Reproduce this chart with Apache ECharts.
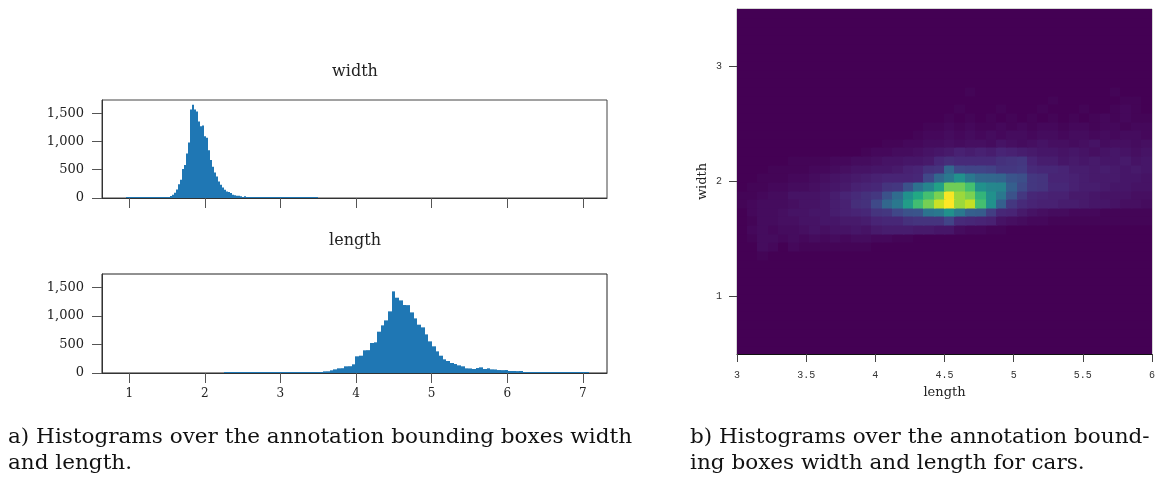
<!DOCTYPE html>
<html><head><meta charset="utf-8">
<script src="https://cdn.jsdelivr.net/npm/echarts@6/dist/echarts.min.js"></script>
<style>html,body{margin:0;padding:0;background:#fff}#c{width:1160px;height:477px}</style>
</head><body><div id="c"></div>
<script>
// ---- Histogram a) : width ----
const widthBinStart = 0.961;
const widthBinSize = 0.0264;
const widthCounts = [
  1,1,2,1,2,2,1,2,2,3,2,3,3,4,3,4,5,6,7,9,12,
  17,35,58,93,152,245,321,513,583,787,980,1563,1650,1563,1528,1353,1271,1283,1090,1067,
  846,671,554,449,379,292,233,187,146,117,105,88,58,47,41,41,29,17,29,8,
  6,5,4,4,3,3,3,2,2,2,2,1,2,1,1,1,1,1,1,1,1,1,1,1,1,1,1,1,1,1,1,1,1,1,1,
  0,0,0,0
];
// ---- Histogram a) : length ----
const lengthBinStart = 2.256;
const lengthBinSize = 0.0482;
const lengthCounts = [
  1,1,1,1,1,1,1,1,1,1,2,1,2,2,2,2,3,3,
  3,3,4,4,5,5,6,10,12,29,30,47,64,82,84,117,119,152,
  292,303,397,400,525,537,723,834,921,1079,1429,
  1318,1271,1190,1188,1061,956,846,799,676,554,467,379,303,239,210,175,157,134,117,
  82,80,70,87,99,70,82,64,62,52,50,52,35,35,33,35,17,18,17,16,17,
  10,8,12,10,8,4,3,3,3,2,2,2,2
];
const histXTicks = [1, 2, 3, 4, 5, 6, 7];
const histYTicks = [0, 500, 1000, 1500];
const histTitles = ['width', 'length'];

// ---- 2D histogram b) : cars (relative density, 0-100) ----
const heatXStart = 3, heatXBin = 0.075, heatXBins = 40;
const heatYStart = 0.5, heatYBin = 0.075, heatYBins = 40;
const heatFirstRow = 10;
const heatRows = [
  [0,0,0,0,0,0,0,0,0,0, 0,0,0,0,0,0,0,0,0,0, 0,0,0,0,0,0,0,0,0,0, 0,0,0,0,0,0,0,0,0,0],
  [0,0,1,0,0,0,0,0,0,0, 0,0,0,0,0,0,0,0,0,0, 0,0,0,0,0,0,0,0,0,0, 0,0,0,0,0,0,0,0,0,0],
  [0,0,3,2,0,2,1,1,1,1, 1,1,1,0,0,0,0,0,0,0, 0,0,0,0,0,0,0,0,0,0, 0,0,0,0,0,0,0,0,0,0],
  [0,1,3,3,2,3,2,3,2,3, 2,3,3,2,2,1,1,0,0,0, 0,0,0,0,0,0,0,0,0,0, 0,0,0,0,0,0,0,0,0,0],
  [0,2,3,2,3,3,4,5,4,5, 5,6,5,7,8,8,8,7,7,6, 6,3,2,2,1,1,0,0,0,0, 0,0,0,0,0,0,0,0,0,0],
  [0,1,3,3,4,4,5,5,6,6, 7,7,8,10,11,11,14,15,15,15, 20,12,11,10,9,5,4,3,2,2, 1,1,1,1,1,1,1,1,1,1],
  [0,2,3,3,4,5,5,6,6,8, 9,10,11,15,16,21,25,26,38,40, 50,40,30,29,18,11,10,7,5,4, 3,3,2,2,2,1,1,1,1,1],
  [1,2,3,3,3,4,5,5,6,8, 9,13,14,22,33,40,55,69,79,92, 100,85,91,70,50,30,16,12,10,9, 9,8,8,7,6,6,5,4,4,3],
  [1,1,2,3,3,5,5,5,6,8, 10,12,14,16,25,35,50,60,70,80, 99,85,80,65,50,40,25,16,11,10, 9,9,7,7,6,5,5,5,4,4],
  [0,1,1,2,2,3,3,4,5,6, 7,9,10,11,15,16,25,37,45,57, 78,78,70,50,46,45,30,22,16,15, 11,11,9,8,8,7,6,6,5,5],
  [0,0,1,1,1,2,2,3,4,5, 6,7,8,9,10,10,10,11,21,33, 40,50,40,34,33,32,26,24,16,15, 10,10,9,8,7,7,7,6,6,5],
  [0,0,0,1,1,1,1,2,2,3, 4,5,5,6,6,7,9,10,14,15, 33,21,20,20,19,16,16,17,12,11, 11,10,8,8,7,8,7,6,7,6],
  [0,0,0,0,0,1,1,1,1,2, 2,3,3,4,5,5,6,6,7,11, 13,12,12,12,12,14,15,16,10,8, 8,6,7,6,7,6,6,7,5,6],
  [0,0,0,0,0,0,0,0,0,0, 0,0,1,2,2,3,3,4,5,6, 7,9,8,9,8,10,9,8,7,6, 6,5,6,5,4,5,6,5,4,5],
  [0,0,0,0,0,0,0,0,0,0, 0,0,0,0,1,1,2,2,3,3, 4,3,4,4,3,5,4,3,4,5, 4,4,3,4,5,3,4,4,3,4],
  [0,0,0,0,0,0,0,0,0,0, 0,0,0,0,0,0,0,1,2,2, 3,2,3,2,3,2,3,3,2,3, 3,2,3,3,2,3,2,3,3,2],
  [0,0,0,0,0,0,0,0,0,0, 0,0,0,0,0,0,0,0,1,1, 2,1,2,1,1,2,1,2,1,2, 2,1,2,2,1,2,2,1,2,2],
  [0,0,0,0,0,0,0,0,0,0, 0,0,0,0,0,0,0,0,0,0, 1,0,1,0,1,0,1,0,1,0, 1,0,1,0,1,2,1,2,1,1],
  [0,0,0,0,0,0,0,0,0,0, 0,0,0,0,0,0,0,0,0,0, 0,1,0,0,0,1,0,0,0,1, 0,0,0,1,0,0,1,2,1,0],
  [0,0,0,0,0,0,0,0,0,0, 0,0,0,0,0,0,0,0,0,0, 0,0,0,0,0,0,0,0,0,0, 1,0,0,0,0,0,0,1,1,0],
  [0,0,0,0,0,0,0,0,0,0, 0,0,0,0,0,0,0,0,0,0, 0,0,1,0,0,0,0,0,0,0, 0,0,0,0,0,0,1,0,0,0]
];
const heatXTickStep = 0.5;
const heatYTicks = [1, 2, 3];
const heatXName = 'length';
const heatYName = 'width';
const viridis = ['#440154','#482475','#414487','#355f8d','#2a788e','#21918c','#22a884','#44bf70','#7ad151','#bddf26','#fde725'];

const captionA = ['a) Histograms over the annotation bounding boxes width', 'and length.'];
const captionB = ['b) Histograms over the annotation bound-', 'ing boxes width and length for cars.'];

// ---- build data ----
function histData(start, size, counts) {
  return counts.map((c, i) => [start + i * size, start + (i + 1) * size, c]);
}
const heatData = [];
for (let r = 0; r < heatYBins; r++) {
  for (let c = 0; c < heatXBins; c++) {
    const row = heatRows[r - heatFirstRow];
    const v = row ? row[c] : 0;
    heatData.push([heatXStart + c * heatXBin, heatXStart + (c + 1) * heatXBin,
                   heatYStart + r * heatYBin, heatYStart + (r + 1) * heatYBin, v]);
  }
}

function histItem(params, api) {
  const v = api.value(2);
  if (!v) return null;
  const p0 = api.coord([api.value(0), v]);
  const p1 = api.coord([api.value(1), 0]);
  let h = p1[1] - p0[1];
  if (h < 1) h = 1;
  const x0 = Math.round(p0[0]), x1 = Math.round(p1[0]);
  return { type: 'rect', shape: { x: x0, y: p1[1] - h, width: Math.max(1, x1 - x0), height: h },
           style: { fill: '#1f77b4' } };
}
function heatItem(params, api) {
  const p0 = api.coord([api.value(0), api.value(3)]);
  const p1 = api.coord([api.value(1), api.value(2)]);
  const x0 = Math.floor(p0[0]), y0 = Math.floor(p0[1]);
  const x1 = Math.ceil(p1[0]), y1 = Math.ceil(p1[1]);
  return { type: 'rect', shape: { x: x0, y: y0, width: x1 - x0 + 0.5, height: y1 - y0 + 0.5 },
           style: { fill: api.visual('color') } };
}

const serif = 'DejaVu Serif';
const histXMin = 0.64, histXMax = 7.32, histYMax = 1733;
function histX(gi, showLabels) {
  return {
    gridIndex: gi, type: 'value', min: histXMin, max: histXMax,
    axisLine: { show: true, lineStyle: { color: '#333', width: 1 } },
    axisTick: { show: true, customValues: histXTicks, length: 10, lineStyle: { color: '#555', width: 1 } },
    axisLabel: { show: showLabels, customValues: histXTicks, margin: 15, fontFamily: serif, fontSize: 12, color: '#222' },
    splitLine: { show: false }
  };
}
function histY(gi) {
  return {
    gridIndex: gi, type: 'value', min: 0, max: histYMax,
    axisLine: { show: true, lineStyle: { color: '#333', width: 1 } },
    axisTick: { show: true, customValues: histYTicks, length: 10, lineStyle: { color: '#555', width: 1 } },
    axisLabel: { customValues: histYTicks, margin: 18, fontFamily: serif, fontSize: 13, color: '#222',
                 formatter: v => Number(v).toLocaleString('en-US') },
    splitLine: { show: false }
  };
}

const chart = echarts.init(document.getElementById('c'), null, { renderer: 'canvas' });
chart.setOption({
  animation: false,
  backgroundColor: '#fff',
  grid: [
    { left: 102, top: 100, width: 505, height: 98, show: true, borderColor: '#444', borderWidth: 1, backgroundColor: 'transparent' },
    { left: 102, top: 274, width: 505, height: 99, show: true, borderColor: '#222', borderWidth: 1, backgroundColor: 'transparent' },
    { left: 737, top: 9, width: 415, height: 345, show: true, borderColor: '#aaa', borderWidth: 1, backgroundColor: 'transparent' }
  ],
  xAxis: [
    histX(0, false),
    histX(1, true),
    {
      gridIndex: 2, type: 'value', min: heatXStart, max: heatXStart + heatXBins * heatXBin, interval: heatXTickStep,
      axisLine: { show: true, lineStyle: { color: '#111', width: 1 } },
      axisTick: { show: true, length: 8, lineStyle: { color: '#444' } },
      axisLabel: { margin: 16, fontFamily: 'Liberation Mono', fontSize: 10, color: '#333' },
      splitLine: { show: false },
      name: heatXName, nameLocation: 'middle', nameGap: 32,
      nameTextStyle: { fontFamily: serif, fontSize: 13, color: '#222' }
    }
  ],
  yAxis: [
    histY(0),
    histY(1),
    {
      gridIndex: 2, type: 'value', min: heatYStart, max: heatYStart + heatYBins * heatYBin,
      axisLine: { show: true, lineStyle: { color: '#888', width: 1 } },
      axisTick: { show: true, customValues: heatYTicks, length: 8, lineStyle: { color: '#444' } },
      axisLabel: { customValues: heatYTicks, margin: 15, fontFamily: 'Liberation Mono', fontSize: 10, color: '#333' },
      splitLine: { show: false },
      name: heatYName, nameLocation: 'middle', nameGap: 28, nameRotate: 90,
      nameTextStyle: { fontFamily: serif, fontSize: 13, color: '#222' }
    }
  ],
  visualMap: {
    type: 'continuous', show: false, min: 0, max: 100, dimension: 4, seriesIndex: 2,
    inRange: { color: viridis }
  },
  series: [
    { type: 'custom', xAxisIndex: 0, yAxisIndex: 0, renderItem: histItem, clip: true,
      encode: { x: [0, 1], y: 2 }, data: histData(widthBinStart, widthBinSize, widthCounts) },
    { type: 'custom', xAxisIndex: 1, yAxisIndex: 1, renderItem: histItem, clip: true,
      encode: { x: [0, 1], y: 2 }, data: histData(lengthBinStart, lengthBinSize, lengthCounts) },
    { type: 'custom', xAxisIndex: 2, yAxisIndex: 2, renderItem: heatItem, clip: true,
      encode: { x: [0, 1], y: [2, 3] }, data: heatData }
  ],
  graphic: [
    { type: 'text', x: 355, y: 72, style: { text: histTitles[0], fontFamily: serif, fontSize: 16, fill: '#222', align: 'center', verticalAlign: 'middle' } },
    { type: 'text', x: 355, y: 241, style: { text: histTitles[1], fontFamily: serif, fontSize: 16, fill: '#222', align: 'center', verticalAlign: 'middle' } },
    { type: 'text', x: 8, y: 438, scaleX: 1.077, style: { text: captionA[0], fontFamily: serif, fontSize: 20, fill: '#111', verticalAlign: 'middle' } },
    { type: 'text', x: 8, y: 464, scaleX: 1.077, style: { text: captionA[1], fontFamily: serif, fontSize: 20, fill: '#111', verticalAlign: 'middle' } },
    { type: 'text', x: 690, y: 438, scaleX: 1.077, style: { text: captionB[0], fontFamily: serif, fontSize: 20, fill: '#111', verticalAlign: 'middle' } },
    { type: 'text', x: 690, y: 464, scaleX: 1.077, style: { text: captionB[1], fontFamily: serif, fontSize: 20, fill: '#111', verticalAlign: 'middle' } }
  ]
});
</script>
</body></html>
